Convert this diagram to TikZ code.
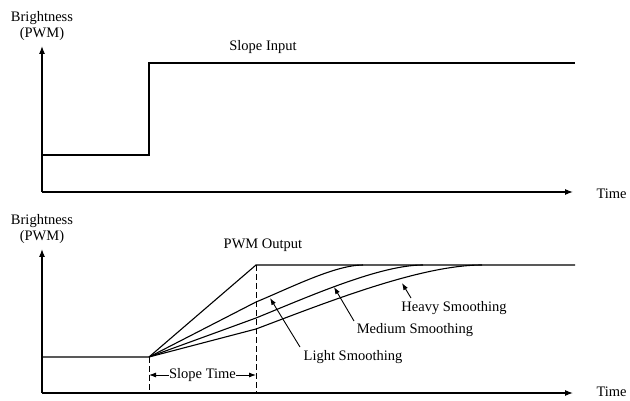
\documentclass[tikz,border=0pt]{standalone}
\usepackage{fontspec}
\setmainfont{Liberation Serif}
\usetikzlibrary{arrows.meta}
\begin{document}
\begin{tikzpicture}[x=1pt,y=-1pt,
  line width=1.1pt,
  lbl/.style={font=\fontsize{14.5}{16}\selectfont, inner sep=0pt},
  axis/.style={-{Latex[length=8pt,width=6pt]}},
  ann/.style={-{Latex[length=7pt,width=5pt]}, line width=0.9pt},
  dashline/.style={dashed, dash pattern=on 6pt off 3pt, line width=0.9pt}]
\useasboundingbox (0,0) rectangle (630,401);
% ---------- top chart ----------
\coordinate (o1) at (42,192);
\coordinate (ytop1) at (42,46);
\coordinate (xend1) at (573,192);
\draw[axis] (o1) -- (ytop1);
\draw[axis] (o1) -- (xend1);
\node[lbl] (yl1a) at (42,18) {Brightness};
\node[lbl] (yl1b) at (42,34) {(PWM)};
\node[lbl, anchor=west] (t1) at (596,194) {Time};
\coordinate (s0) at (42,155);
\coordinate (s1) at (149,155);
\coordinate (s2) at (149,63);
\coordinate (s3) at (575,63);
\draw (s0) -- (s1) -- (s2) -- (s3);
\node[lbl] (si) at (263,47) {Slope Input};
% ---------- bottom chart ----------
\coordinate (o2) at (42,393);
\coordinate (ytop2) at (42,249);
\coordinate (xend2) at (573,393);
\draw[axis] (o2) -- (ytop2);
\draw[axis] (o2) -- (xend2);
\node[lbl] (yl2a) at (42,221) {Brightness};
\node[lbl] (yl2b) at (42,237) {(PWM)};
\node[lbl, anchor=west] (t2) at (596,392) {Time};
\coordinate (p0) at (42,357);
\coordinate (p1) at (149,357);
\coordinate (p2) at (256,265);
\coordinate (p3) at (575,265);
\draw (p0) -- (p1) -- (p2) -- (p3);
\node[lbl] (po) at (263,245) {PWM Output};
% smoothing curves
\coordinate (lmid) at (256,302);
\coordinate (mmid) at (256,318);
\coordinate (hmid) at (256,329);
\coordinate (lend) at (363,265);
\coordinate (mend) at (423,265);
\coordinate (hend) at (482,265);
\draw (p1) -- (lmid) .. controls (290,288) and (335,265) .. (lend);
\draw (p1) -- (mmid) .. controls (310,296) and (380,265) .. (mend);
\draw (p1) -- (hmid) .. controls (325,303) and (420,265) .. (hend);
% dashed lines
\coordinate (d1t) at (149,357);
\coordinate (d1b) at (149,393);
\coordinate (d2t) at (256,265);
\coordinate (d2b) at (256,393);
\draw[dashline] (d1t) -- (d1b);
\draw[dashline] (d2t) -- (d2b);
% slope time
\node[lbl] (st) at (202.5,375) {Slope Time};
\coordinate (stl) at (149,375);
\coordinate (str) at (256,375);
\draw[ann] (st.west) -- (stl);
\draw[ann] (st.east) -- (str);
% annotations
\node[lbl] (ls) at (353,357) {Light Smoothing};
\node[lbl] (ms) at (415,330) {Medium Smoothing};
\node[lbl] (hs) at (454,308) {Heavy Smoothing};
\coordinate (la) at (270,298);
\coordinate (lt) at (300,347);
\coordinate (ma) at (334,287);
\coordinate (mt) at (354,321);
\coordinate (ha) at (402,283);
\coordinate (ht) at (411,298);
\draw[ann] (lt) -- (la);
\draw[ann] (mt) -- (ma);
\draw[ann] (ht) -- (ha);
\end{tikzpicture}
\end{document}
